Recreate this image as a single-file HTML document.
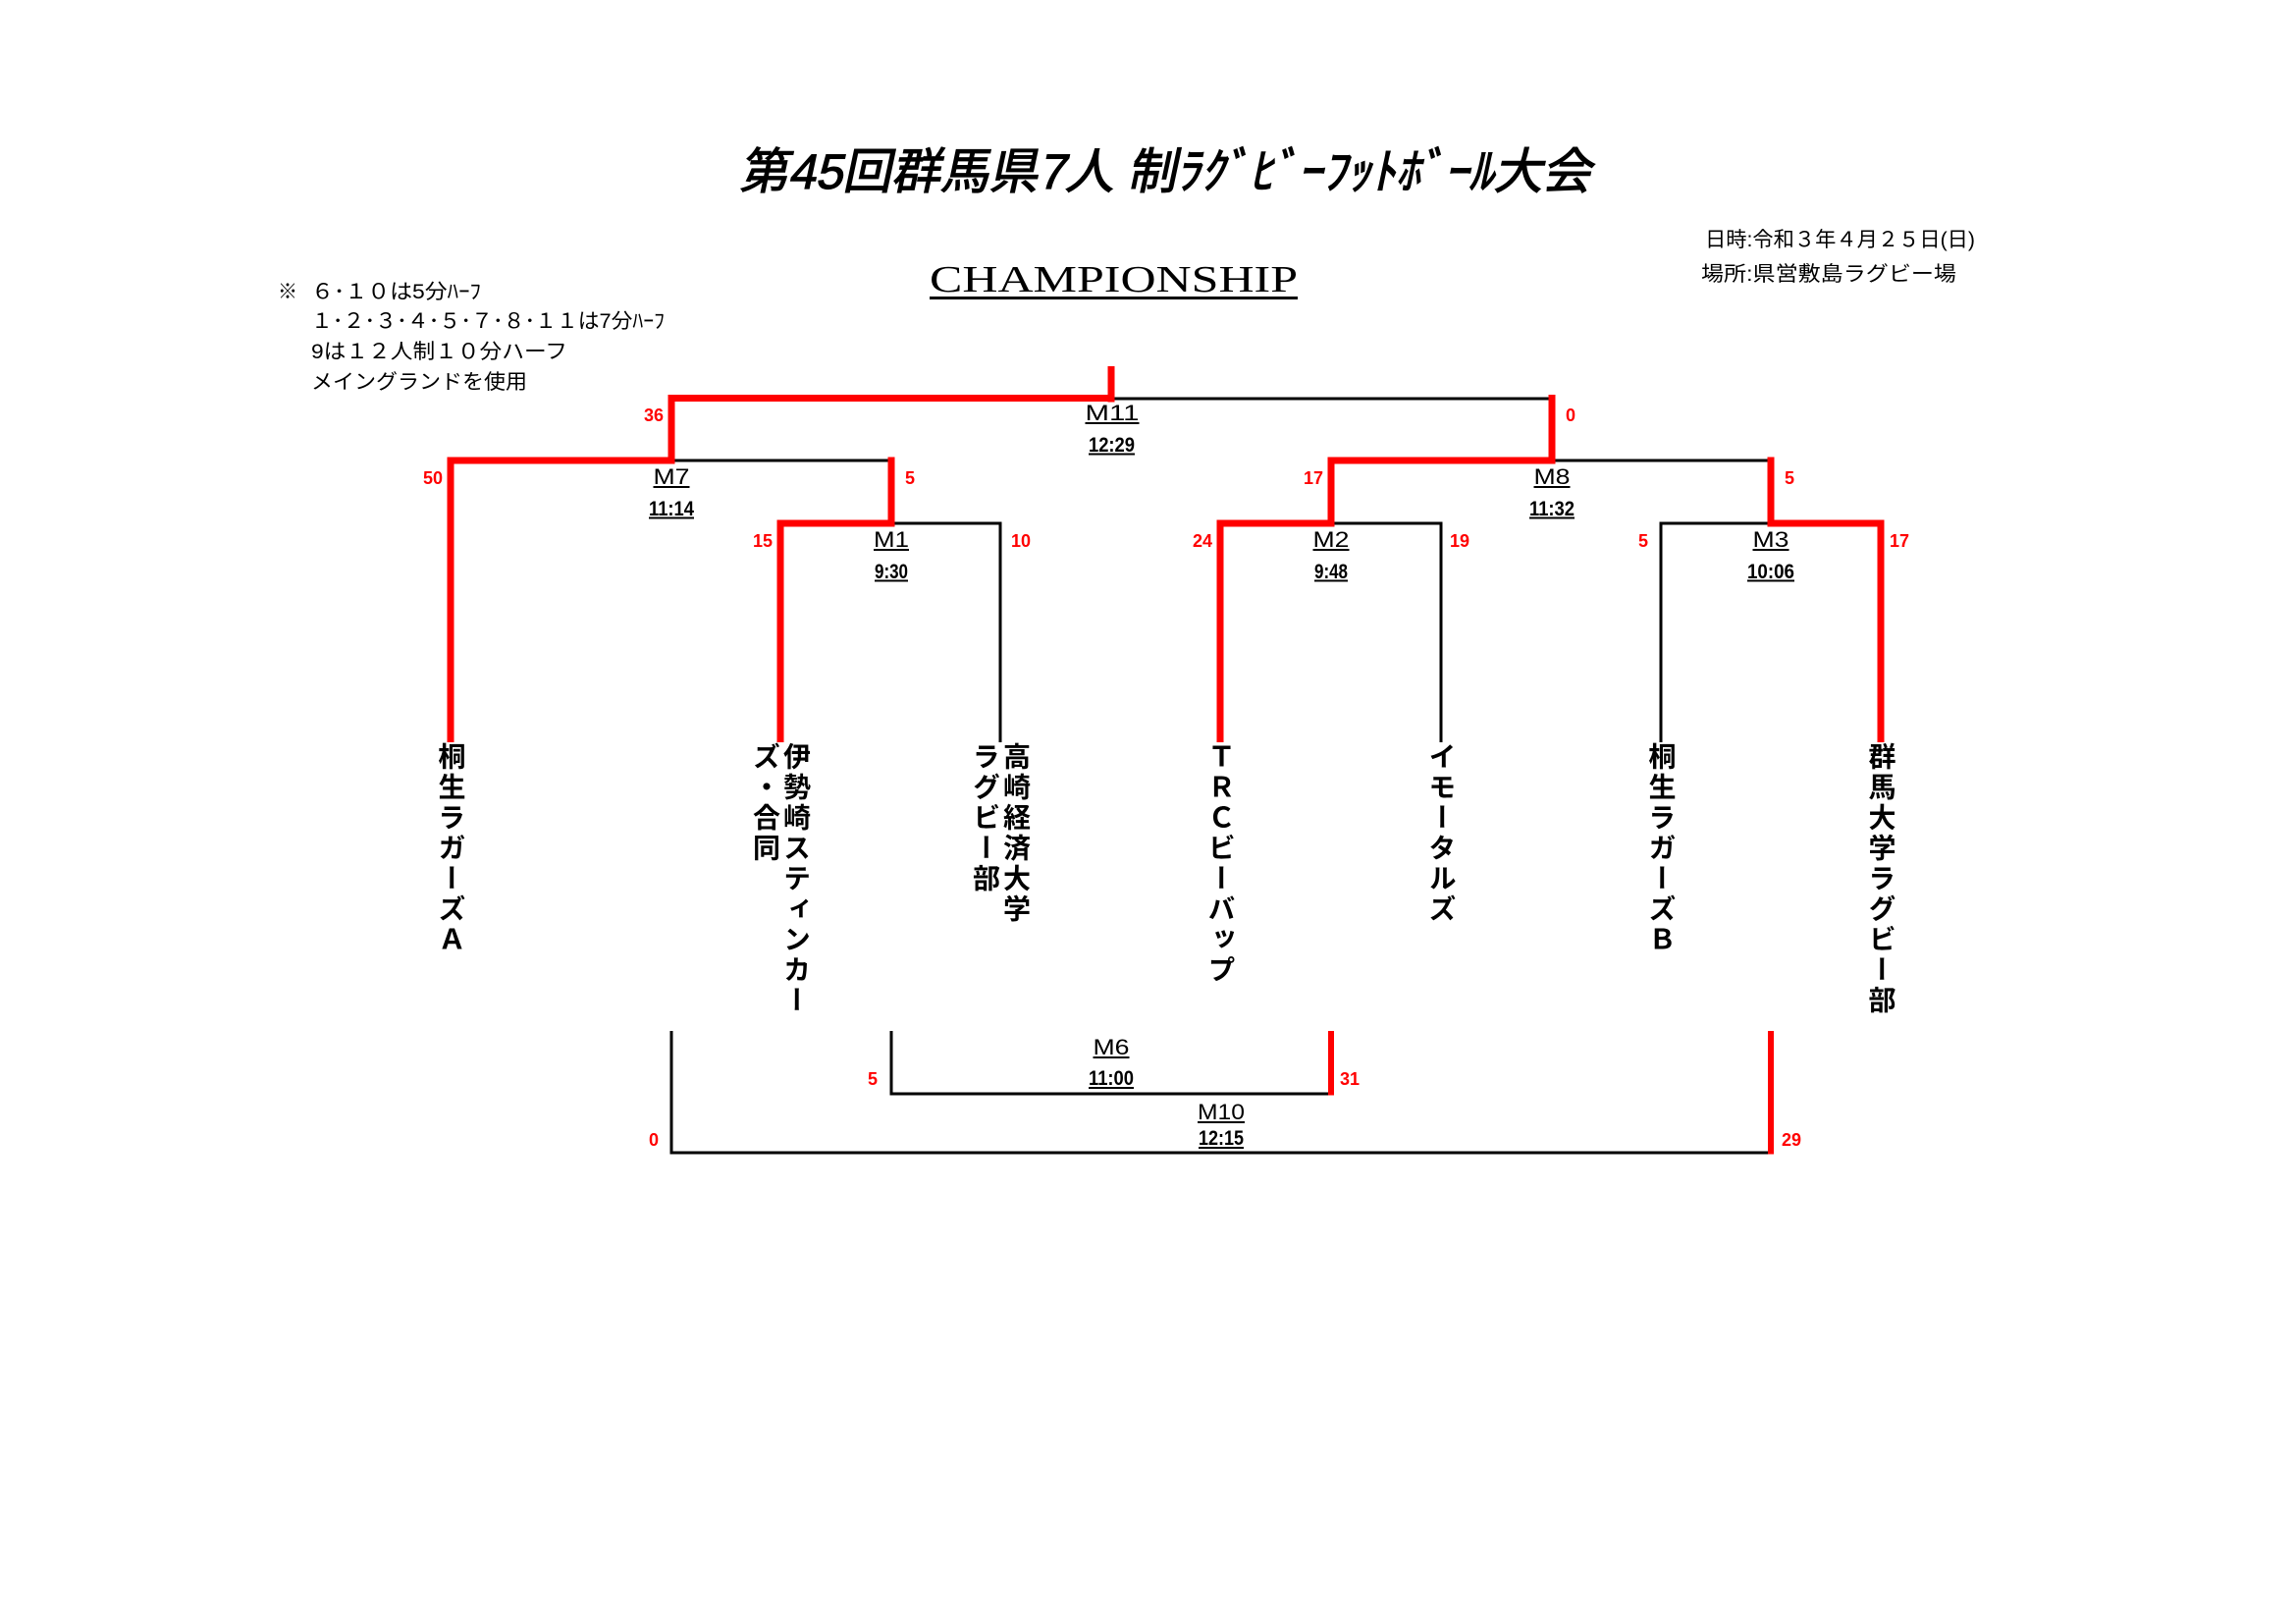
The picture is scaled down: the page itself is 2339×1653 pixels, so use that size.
<!DOCTYPE html>
<html><head><meta charset="utf-8">
<style>
html,body{margin:0;padding:0;background:#fff;}
#wrap{position:relative;width:2339px;height:1653px;overflow:hidden;background:#fff;}
svg{position:absolute;left:0;top:0;}
.tn{position:absolute;top:756px;writing-mode:vertical-rl;text-orientation:mixed;font-family:"Liberation Sans","Noto Sans CJK JP",sans-serif;font-weight:bold;font-size:28px;letter-spacing:3px;line-height:31px;white-space:nowrap;color:#000;}
</style></head><body><div id="wrap">
<svg width="2339" height="1653" viewBox="0 0 2339 1653" xmlns="http://www.w3.org/2000/svg">
<g font-family="Liberation Sans, Noto Sans CJK JP, sans-serif">
<!-- Title -->
<text transform="translate(753,192) skewX(-12)" x="0" y="0" font-size="50" font-weight="normal" stroke="#000" stroke-width="1.2" textLength="868" lengthAdjust="spacingAndGlyphs">第45回群馬県7人 制ﾗｸﾞﾋﾞｰﾌｯﾄﾎﾞｰﾙ大会</text>
<text x="947" y="297" font-family="Liberation Serif, serif" font-size="38" textLength="375" lengthAdjust="spacingAndGlyphs">CHAMPIONSHIP</text>
<rect x="947" y="302" width="375" height="3" fill="#000"/>
<!-- Date -->
<text x="1737" y="251" font-size="21" textLength="275" lengthAdjust="spacingAndGlyphs">日時:令和３年４月２５日(日)</text>
<text x="1733" y="286" font-size="21" textLength="260" lengthAdjust="spacingAndGlyphs">場所:県営敷島ラグビー場</text>
<!-- Notes -->
<text x="283" y="304" font-size="21" textLength="20" lengthAdjust="spacingAndGlyphs">※</text>
<text x="317" y="304" font-size="21" textLength="173" lengthAdjust="spacingAndGlyphs">６･１０は5分ﾊｰﾌ</text>
<text x="317" y="334" font-size="21" textLength="360" lengthAdjust="spacingAndGlyphs">１･２･３･４･５･７･８･１１は7分ﾊｰﾌ</text>
<text x="317" y="365" font-size="21" textLength="261" lengthAdjust="spacingAndGlyphs">9は１２人制１０分ハーフ</text>
<text x="317" y="396" font-size="21" textLength="220" lengthAdjust="spacingAndGlyphs">メイングランドを使用</text>
</g>

<!-- Black lines -->
<g fill="#000">
<rect x="1132" y="404.5" width="449" height="3"/>
<rect x="684" y="467.5" width="224" height="3"/>
<rect x="908" y="531.5" width="112.5" height="3"/>
<rect x="1581" y="467.5" width="223" height="3"/>
<rect x="1356" y="531.5" width="113.5" height="3"/>
<rect x="1690.5" y="531.5" width="113.5" height="3"/>
<rect x="1017.5" y="531.5" width="3" height="224.5"/>
<rect x="1466.5" y="531.5" width="3" height="224.5"/>
<rect x="1690.5" y="531.5" width="3" height="224.5"/>
<!-- bottom -->
<rect x="906.5" y="1050" width="3" height="65.5"/>
<rect x="906.5" y="1112.5" width="449.5" height="3"/>
<rect x="682.5" y="1050" width="3" height="125.5"/>
<rect x="682.5" y="1172.5" width="1121.5" height="3"/>
</g>

<!-- Red lines -->
<g fill="#ff0000">
<rect x="1128.5" y="373" width="7" height="36.5"/>
<rect x="680.5" y="402" width="455" height="7"/>
<rect x="680.5" y="402" width="7" height="70.5"/>
<rect x="455.5" y="465.5" width="232" height="7"/>
<rect x="455.5" y="465.5" width="7" height="290.5"/>
<rect x="904.5" y="465.5" width="7" height="71"/>
<rect x="791.5" y="529.5" width="120" height="7"/>
<rect x="791.5" y="529.5" width="7" height="226.5"/>
<rect x="1577.5" y="402" width="7" height="70.5"/>
<rect x="1352.5" y="465.5" width="232" height="7"/>
<rect x="1352.5" y="465.5" width="7" height="71"/>
<rect x="1800.5" y="465.5" width="7" height="71"/>
<rect x="1239.5" y="529.5" width="120" height="7"/>
<rect x="1239.5" y="529.5" width="7" height="226.5"/>
<rect x="1800.5" y="529.5" width="119" height="7"/>
<rect x="1912.5" y="529.5" width="7" height="226.5"/>
<!-- bottom -->
<rect x="1353" y="1050" width="6" height="65.5"/>
<rect x="1801" y="1050" width="6" height="125.5"/>
</g>

<!-- Match labels -->
<g font-family="Liberation Sans, sans-serif" text-anchor="middle" fill="#000">
<text x="1133" y="428" font-size="22" textLength="55" lengthAdjust="spacingAndGlyphs">M11</text>
<text x="1132.5" y="460" font-size="21" font-weight="bold" textLength="47" lengthAdjust="spacingAndGlyphs">12:29</text>
<text x="684" y="493" font-size="22" textLength="37" lengthAdjust="spacingAndGlyphs">M7</text>
<text x="684" y="525" font-size="21" font-weight="bold" textLength="46" lengthAdjust="spacingAndGlyphs">11:14</text>
<text x="1581" y="493" font-size="22" textLength="37" lengthAdjust="spacingAndGlyphs">M8</text>
<text x="1581" y="525" font-size="21" font-weight="bold" textLength="46" lengthAdjust="spacingAndGlyphs">11:32</text>
<text x="908" y="557" font-size="22" textLength="36" lengthAdjust="spacingAndGlyphs">M1</text>
<text x="908" y="589" font-size="21" font-weight="bold" textLength="34" lengthAdjust="spacingAndGlyphs">9:30</text>
<text x="1356" y="557" font-size="22" textLength="37" lengthAdjust="spacingAndGlyphs">M2</text>
<text x="1356" y="589" font-size="21" font-weight="bold" textLength="34" lengthAdjust="spacingAndGlyphs">9:48</text>
<text x="1804" y="557" font-size="22" textLength="37" lengthAdjust="spacingAndGlyphs">M3</text>
<text x="1804" y="589" font-size="21" font-weight="bold" textLength="48" lengthAdjust="spacingAndGlyphs">10:06</text>
<text x="1132" y="1074" font-size="22" textLength="37" lengthAdjust="spacingAndGlyphs">M6</text>
<text x="1132" y="1105" font-size="21" font-weight="bold" textLength="46" lengthAdjust="spacingAndGlyphs">11:00</text>
<text x="1244" y="1140" font-size="22" textLength="48" lengthAdjust="spacingAndGlyphs">M10</text>
<text x="1244" y="1166" font-size="21" font-weight="bold" textLength="46" lengthAdjust="spacingAndGlyphs">12:15</text>
</g>
<!-- underlines -->
<g fill="#000">
<rect x="1105.5" y="430" width="55" height="2"/>
<rect x="1109" y="461.5" width="47" height="2"/>
<rect x="665.5" y="495" width="37" height="2"/>
<rect x="661" y="526.5" width="46" height="2"/>
<rect x="1562.5" y="495" width="37" height="2"/>
<rect x="1558" y="526.5" width="46" height="2"/>
<rect x="890" y="559" width="36" height="2"/>
<rect x="891" y="590.5" width="34" height="2"/>
<rect x="1337.5" y="559" width="37" height="2"/>
<rect x="1339" y="590.5" width="34" height="2"/>
<rect x="1785.5" y="559" width="37" height="2"/>
<rect x="1780" y="590.5" width="48" height="2"/>
<rect x="1113.5" y="1076" width="37" height="2"/>
<rect x="1109" y="1107" width="46" height="2"/>
<rect x="1220" y="1142" width="48" height="2"/>
<rect x="1221" y="1168" width="46" height="2"/>
</g>

<!-- Scores -->
<g font-family="Liberation Sans, sans-serif" font-size="18" font-weight="bold" fill="#ff0000" text-anchor="middle">
<text x="666" y="429">36</text>
<text x="1600" y="429">0</text>
<text x="441" y="493">50</text>
<text x="927" y="493">5</text>
<text x="1338" y="493">17</text>
<text x="1823" y="493">5</text>
<text x="777" y="557">15</text>
<text x="1040" y="557">10</text>
<text x="1225" y="557">24</text>
<text x="1487" y="557">19</text>
<text x="1674" y="557">5</text>
<text x="1935" y="557">17</text>
<text x="889" y="1105">5</text>
<text x="1375" y="1105">31</text>
<text x="666" y="1167">0</text>
<text x="1825" y="1167">29</text>
</g>
</svg>

<!-- Team names (vertical) -->
<div class="tn" style="left:443.5px;width:31px;">桐生ラガーズＡ</div>
<div class="tn" style="left:764px;width:62px;">伊勢崎スティンカー<br>ズ・合同</div>
<div class="tn" style="left:988px;width:62px;">高崎経済大学<br>ラグビー部</div>
<div class="tn" style="left:1227.5px;width:31px;">ＴＲＣビーバップ</div>
<div class="tn" style="left:1452.5px;width:31px;">イモータルズ</div>
<div class="tn" style="left:1676.5px;width:31px;">桐生ラガーズＢ</div>
<div class="tn" style="left:1900.5px;width:31px;">群馬大学ラグビー部</div>
</div></body></html>
